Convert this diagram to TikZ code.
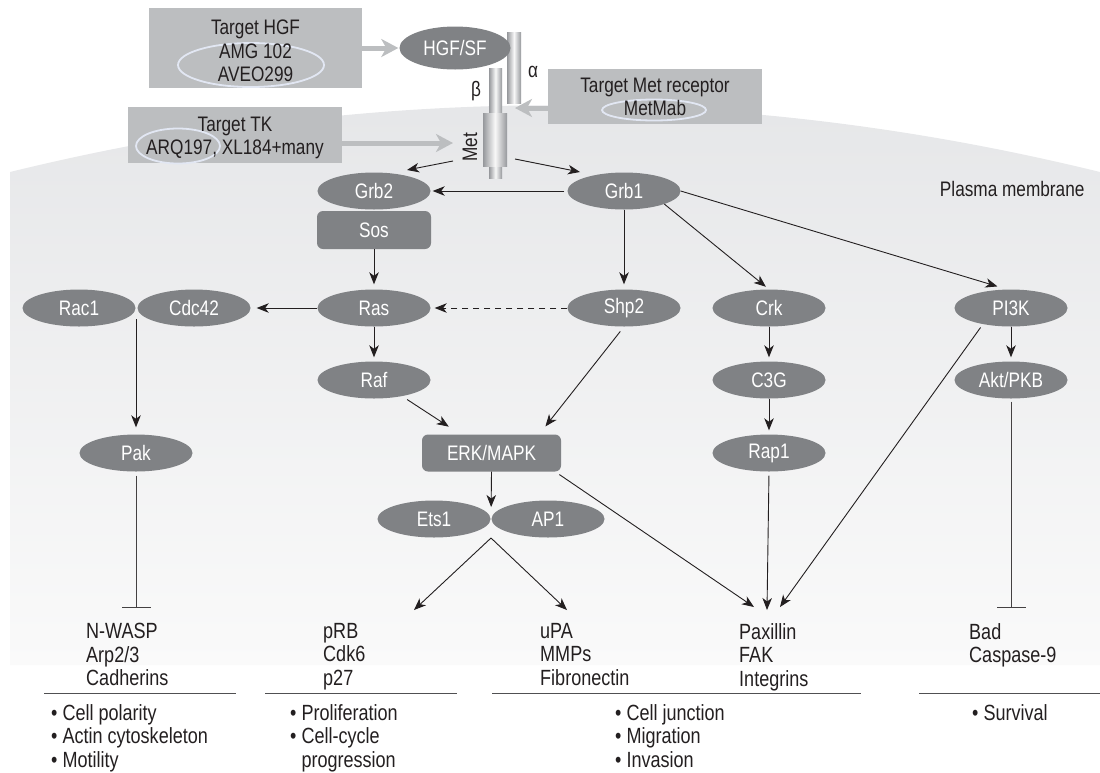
\documentclass[tikz,border=0pt]{standalone}
\usepackage{fontspec}
\setmainfont{Liberation Sans}[FakeStretch=0.82]
\usetikzlibrary{shapes.geometric,arrows.meta,calc}

\definecolor{protgray}{RGB}{128,130,133}
\definecolor{boxgray}{RGB}{188,190,192}
\definecolor{ink}{RGB}{35,31,32}
\definecolor{ringblue}{RGB}{226,231,243}
\definecolor{chaindark}{RGB}{150,152,156}
\definecolor{chainlight}{RGB}{248,248,248}
\definecolor{celltop}{RGB}{229,230,232}
\definecolor{cellbot}{RGB}{250,250,250}
\definecolor{rulegray}{RGB}{80,80,82}

\tikzset{
  every node/.style={font=\fontsize{21}{23.5}\selectfont, text=ink},
  prot/.style={ellipse, fill=protgray, text=white, minimum width=113pt, minimum height=37pt, inner sep=0pt},
  protbox/.style={rectangle, rounded corners=6pt, fill=protgray, text=white, minimum width=114pt, minimum height=37pt, inner sep=0pt},
  target/.style={rectangle, fill=boxgray, inner sep=0pt},
  targettext/.style={align=center, inner sep=0pt},
  drugring/.style={ellipse, draw=ringblue, line width=1.8pt, inner sep=0pt},
  chain/.style={rectangle, inner sep=0pt, left color=chaindark, right color=chaindark, middle color=chainlight},
  link/.style={ink, line width=0.9pt, -{Stealth[length=12pt,width=9.5pt,inset=3.5pt]}},
  block/.style={ink!85, line width=0.9pt, -{Bar[width=29pt]}},
  hit/.style={boxgray, line width=5pt, -{Stealth[length=17pt,width=18pt,inset=5pt]}},
  readout/.style={anchor=north west, align=left, inner sep=0pt, font=\fontsize{22}{23.5}\selectfont},
  rule/.style={rulegray, line width=1pt}
}

\begin{document}
\begin{tikzpicture}[x=1pt,y=-1pt]
  \useasboundingbox (0,0) rectangle (1100,772);

  % cell body under the membrane
  \shade[top color=celltop, bottom color=cellbot] (10,172) .. controls (373,83) and (737,83) .. (1100,172) -- (1100,665) -- (10,665) -- cycle;
  \node[anchor=east] (pm) at (1088,189) {Plasma membrane};

  % Met receptor
  \node[chain, minimum width=14pt, minimum height=71pt] (alpha) at (514,67.5) {};
  \node[chain, minimum width=13pt, minimum height=45pt] (betatop) at (495.5,90.5) {};
  \node[chain, minimum width=13pt, minimum height=12pt] (betatail) at (495.5,172) {};
  \node[chain, minimum width=24pt, minimum height=53pt] (metbody) at (495,139.5) {};
  \node (alphalbl) at (533,72) {α};
  \node (betalbl) at (476,91) {β};
  \node[rotate=90] (metlbl) at (470,147) {Met};

  % drug targets
  \node[target, minimum width=213pt, minimum height=80pt] (tHGF) at (255.5,48) {};
  \node[drugring, minimum width=146pt, minimum height=44pt] (ringHGF) at (251,65) {};
  \node[targettext] (tHGFtxt) at (255.5,51) {Target HGF\\AMG 102\\AVEO299};
  \node[target, minimum width=214pt, minimum height=56pt] (tTK) at (235,135) {};
  \node[drugring, minimum width=84pt, minimum height=35pt] (ringTK) at (178,146) {};
  \node[targettext] (tTKtxt) at (235,138) {Target TK\\ARQ197, XL184+many};
  \node[target, minimum width=214pt, minimum height=55pt] (tMet) at (655,96.5) {};
  \node[drugring, minimum width=104pt, minimum height=21pt] (ringMet) at (654,110) {};
  \node[targettext] (tMettxt) at (655,97) {Target Met receptor\\MetMab};
  \node[prot, minimum width=111pt, minimum height=43pt] (hgf) at (455,48) {HGF/SF};

  \coordinate (tkin) at (453,143);
  \coordinate (metin) at (515,108);
  \draw[hit, shorten >=1pt] (tHGF.east) -- (hgf.west);
  \draw[hit] (tTK.east |- tkin) -- (tkin);
  \draw[hit] (tMet.west |- metin) -- (metin);

  % signalling proteins
  \node[prot] (grb2) at (374,191) {Grb2};
  \node[prot] (grb1) at (624,191) {Grb1};
  \node[protbox, minimum height=38pt] (sos) at (374,230) {Sos};
  \node[prot] (rac1) at (79,308) {Rac1};
  \node[prot] (cdc42) at (194,308) {Cdc42};
  \node[prot] (ras) at (374,308) {Ras};
  \node[prot] (shp2) at (624,308) {Shp2};
  \node[prot] (crk) at (769,308) {Crk};
  \node[prot] (pi3k) at (1011,308) {PI3K};
  \node[prot] (raf) at (374,380) {Raf};
  \node[prot] (c3g) at (769,380) {C3G};
  \node[prot] (akt) at (1011,380) {Akt/PKB};
  \node[prot] (pak) at (136,453) {Pak};
  \node[protbox, minimum width=139pt] (erk) at (491.5,453) {ERK/MAPK};
  \node[prot] (rap1) at (769,453) {Rap1};
  \node[prot] (ets1) at (434,519) {Ets1};
  \node[prot] (ap1) at (548,519) {AP1};

  \coordinate (metl) at (453,161);
  \coordinate (metr) at (515,159);
  \coordinate (grb2in) at (407,170);
  \coordinate (grb1in) at (580,172);
  \coordinate (rcjoin) at (136,319);
  \coordinate (eajoin) at ($(ets1.east)!.5!(ap1.west)$);
  \coordinate (prbin) at (414,610);
  \coordinate (upain) at (567,610);
  \coordinate (paxl) at (754,607);
  \coordinate (paxin) at (767,610);
  \coordinate (paxr) at (780,607);
  \coordinate (nwaspbar) at (136,608);
  \coordinate (badbar) at (1011,608);

  \draw[link] (metl) -- (grb2in);
  \draw[link] (metr) -- (grb1in);
  \draw[link, shorten <=3pt, shorten >=2pt] (grb1.west) -- (grb2.east);
  \draw[link, shorten >=5pt] (sos.south) -- (ras.north);
  \draw[link, shorten >=6pt] (ras.west) -- (cdc42.east);
  \draw[link, dash pattern=on 6pt off 5pt, shorten >=4pt] (shp2.west) -- (ras.east);
  \draw[link, shorten >=7pt] (rcjoin) -- (pak.north);
  \draw[link, shorten >=4pt] (ras.south) -- (raf.north);
  \draw[link, shorten <=6pt, shorten >=14pt] (raf.-30) -- ([xshift=-31pt]erk.north);
  \draw[link, shorten <=6pt, shorten >=10pt] (shp2.south) -- ([xshift=-22pt]erk.north east);
  \draw[link, shorten >=12pt] (erk.south) -- (eajoin);
  \draw[link] ([yshift=-19pt]eajoin) -- (prbin);
  \draw[link] ([yshift=-19pt]eajoin) -- (upain);
  \draw[link, shorten >=5pt] (grb1.south) -- (shp2.north);
  \draw[link, shorten >=4pt] (grb1.-18) -- (crk.north);
  \draw[link, shorten >=10pt] (grb1.east) -- ([xshift=-4pt]pi3k.north);
  \draw[link, shorten >=4pt] (crk.south) -- (c3g.north);
  \draw[link, shorten >=4pt] (c3g.south) -- (rap1.north);
  \draw[link, shorten >=4pt] (pi3k.south) -- (akt.north);
  \draw[link, shorten <=4pt] (rap1.south) -- (paxin);
  \draw[link, shorten <=5pt] ([xshift=-6pt]erk.south east) -- (paxl);
  \draw[link, shorten <=4pt] (pi3k.-150) -- (paxr);
  \draw[block, shorten <=4pt] (pak.south) -- (nwaspbar);
  \draw[block, shorten <=3pt] (akt.south) -- (badbar);

  % read-outs
  \node[readout] (nwasp) at (86,623) {N-WASP\\Arp2/3\\Cadherins};
  \node[readout] (prb) at (323,623) {pRB\\Cdk6\\p27};
  \node[readout] (upa) at (540,623) {uPA\\MMPs\\Fibronectin};
  \node[readout] (pax) at (739,623) {Paxillin\\FAK\\Integrins};
  \node[readout] (bad) at (969,623) {Bad\\Caspase-9};

  \draw[rule] (44,693) -- (236,693);
  \draw[rule] (265,693) -- (457,693);
  \draw[rule] (492,693) -- (861,693);
  \draw[rule] (919,693) -- (1100,693);

  \node[readout] (fx1) at (51,704) {• Cell polarity\\• Actin cytoskeleton\\• Motility};
  \node[readout] (fx2) at (290,704) {• Proliferation\\• Cell-cycle\\\hphantom{•} progression};
  \node[readout] (fx3) at (615,704) {• Cell junction\\• Migration\\• Invasion};
  \node[readout] (fx4) at (972,704) {• Survival};
\end{tikzpicture}
\end{document}
